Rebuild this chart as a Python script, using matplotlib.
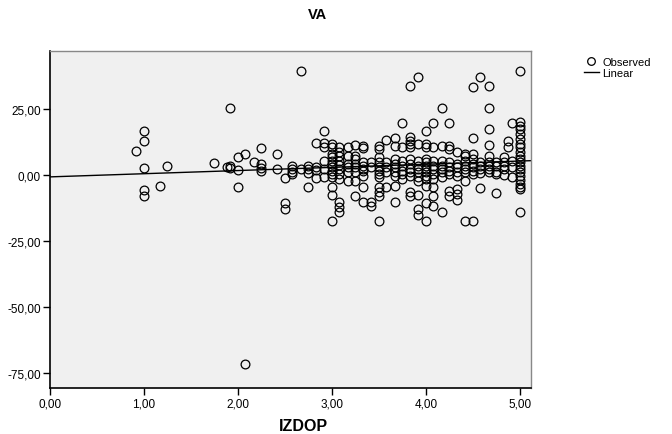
import matplotlib
matplotlib.use("Agg")
import matplotlib.pyplot as plt
from matplotlib.lines import Line2D

plt.rcParams["font.family"] = ["Liberation Sans", "DejaVu Sans"]

# observed values, grouped by IZDOP level
groups = {
    0.92: [9.0],
    1.00: [16.8, 12.8, 2.8, -5.5, -7.8],
    1.17: [-4.0],
    1.25: [3.4],
    1.75: [4.4],
    1.88: [3.0],
    1.92: [25.5, 2.7, 3.3],
    2.00: [2.0, 6.9, -4.5],
    2.08: [8.0, -71.5],
    2.17: [5.0],
    2.25: [10.1, 4.0, 2.8, 1.4],
    2.42: [8.0, 2.2],
    2.50: [-1.2, -10.7, -12.9],
    2.58: [3.4, 2.3, 1.0, 0.3],
    2.67: [39.5, 2.3],
    2.75: [3.5, 2.2, 0.6, -4.6],
    2.83: [12.0, 3.2, 2.0, -1.0],
    2.92: [16.8, 12.0, 10.6, 5.4, 2.3, -0.9],
    3.00: [11.7, 10.5, 8.0, 6.7, 5.4, 4.2, 2.9, 1.6, 0.4, -0.9, -4.7, -7.6, -17.4],
    3.08: [10.5, 8.7, 7.1, 5.4, 3.8, 2.3, 0.4, -1.5, -10.3, -12.2, -13.9],
    3.17: [10.5, 7.3, 4.2, 2.9, 1.0, -2.1],
    3.25: [11.4, 7.3, 6.1, 4.2, 2.9, 1.0, -2.1, -7.8],
    3.33: [11.1, 10.1, 4.8, 3.5, 2.3, 1.6, -0.3, -4.7, -10.3],
    3.42: [4.8, 2.9, -10.3, -11.6],
    3.50: [11.1, 9.8, 6.7, 4.8, 2.9, 1.6, 0.4, -0.9, -4.7, -6.6, -7.8, -17.4],
    3.58: [13.3, 4.8, 2.9, 1.0, -4.4],
    3.67: [14.1, 11.1, 6.1, 4.2, 2.9, 1.0, -0.3, -4.0, -10.4],
    3.75: [19.7, 10.7, 5.4, 3.5, 1.6, 0.4, -1.5],
    3.83: [33.8, 14.3, 13.0, 11.7, 10.5, 6.1, 4.2, 2.3, 1.0, -0.3, -6.6, -7.8],
    3.92: [37.0, 11.7, 5.4, 3.5, 2.3, 1.0, -0.9, -2.1, -7.5, -12.9, -15.3],
    4.00: [16.8, 11.7, 10.5, 6.1, 4.8, 3.5, 2.3, 1.0, -0.3, -1.5, -4.3, -10.5, -17.5],
    4.08: [19.7, 10.7, 5.4, 3.5, 2.3, 0.4, -1.5, -4.7, -7.8, -11.6],
    4.17: [25.5, 11.1, 5.4, 3.5, 2.3, 1.0, -0.9, -14.0],
    4.25: [19.7, 11.1, 9.8, 4.8, 2.9, 1.6, 0.4, -5.9, -7.8],
    4.33: [8.6, 4.2, 2.9, 1.0, -0.3, -5.2, -7.2, -9.5],
    4.42: [8.0, 7.3, 5.4, 3.5, 2.3, 1.0, -2.4, -17.4],
    4.50: [33.5, 14.0, 8.0, 6.1, 4.2, 2.9, 1.6, 0.4, -17.4],
    4.58: [37.0, 4.8, 3.5, 2.3, 0.8, -5.0],
    4.67: [33.8, 25.5, 17.3, 11.4, 7.3, 4.8, 3.5, 2.3, 1.0],
    4.75: [4.8, 3.5, 1.0, 0.4, -6.8],
    4.83: [6.7, 4.8, 3.5, 2.3, 0.2],
    4.88: [12.8, 10.5],
    4.92: [19.7, 5.4, 2.9, -0.9],
    5.00: [39.5, 20.0, 18.4, 17.4, 15.5, 13.6, 11.7, 10.5, 8.6, 7.3, 6.1, 4.8,
           3.5, 2.3, 1.0, -0.3, -1.8, -3.4, -4.7, -5.3, -14.1],
}
izdop = [x for x, vals in groups.items() for _ in vals]
va = [v for vals in groups.values() for v in vals]

# linear fit
intercept = -0.7
slope = 1.2

x_ticks = [0, 1, 2, 3, 4, 5]
y_ticks = [25, 0, -25, -50, -75]

fig = plt.figure(figsize=(6.72, 4.35), dpi=100)
ax = fig.add_axes([50 / 672, 1 - 389 / 435, 481 / 672, 337 / 435])
ax.set_facecolor("#f0f0f0")

ax.plot(izdop, va, "o", mfc="none", mec="black", ms=6.3, mew=0.9, zorder=3)

xmin, xmax = 0, 5.12
ax.plot([xmin, xmax], [intercept + slope * xmin, intercept + slope * xmax],
        color="black", lw=1, zorder=2)

ax.set_xlim(xmin, xmax)
ax.set_ylim(-80.7, 47)
ax.set_xticks(x_ticks)
ax.set_xticklabels([f"{t:.2f}".replace(".", ",") for t in x_ticks])
ax.set_yticks(y_ticks)
ax.set_yticklabels([f"{t:.2f}".replace(".", ",") for t in y_ticks])
ax.tick_params(direction="out", length=5, width=1, labelsize=8.5, pad=1.5)

for s in ["left", "bottom"]:
    ax.spines[s].set_color("black")
    ax.spines[s].set_linewidth(1.2)
for s in ["top", "right"]:
    ax.spines[s].set_color("#888888")
    ax.spines[s].set_linewidth(1)

fig.text(318 / 672, 1 - 15 / 435, "VA", ha="center", va="center",
         fontsize=10.5, fontweight="bold")
fig.text(303 / 672, 1 - 427 / 435, "IZDOP", ha="center", va="center",
         fontsize=11.5, fontweight="bold")

handles = [
    Line2D([], [], marker="o", ls="none", mfc="none", mec="black", ms=5.5, mew=0.9),
    Line2D([], [], color="black", lw=1),
]
fig.legend(handles, ["Observed", "Linear"], loc="upper left",
           bbox_to_anchor=(578 / 672, 1 - 52 / 435), frameon=False,
           fontsize=8, handlelength=1.4, handletextpad=0.3,
           labelspacing=0.1, borderpad=0)

fig.savefig("out.png", dpi=100)
